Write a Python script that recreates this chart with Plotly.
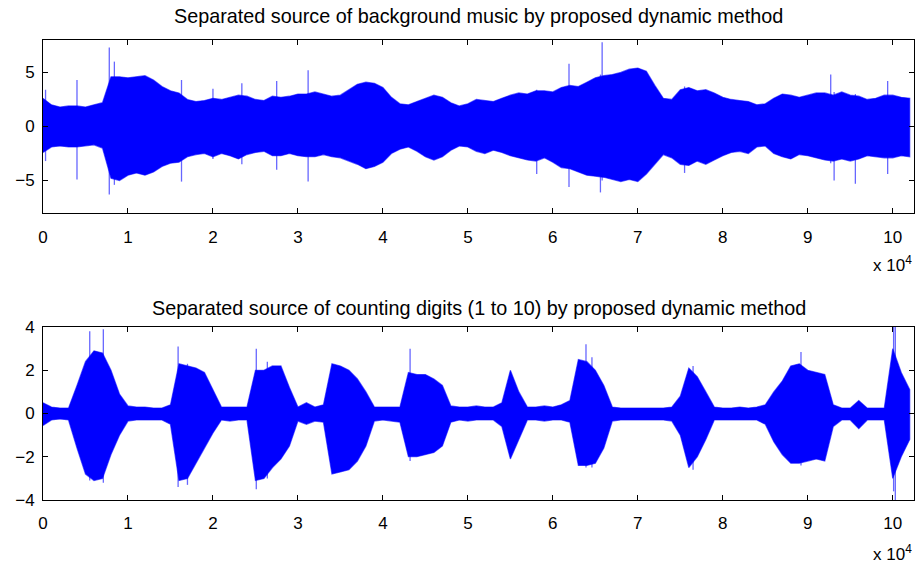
import plotly.graph_objects as go

# Dense-body envelope of each waveform, read every 1000 samples (k = 0..102)
sample_step = 1000

music_upper = [2.6, 2.0, 1.8, 1.9, 1.9, 1.8, 2.0, 2.2, 4.6, 4.6,
               4.5, 4.6, 4.7, 4.3, 3.7, 3.3, 3.1, 2.5, 2.3, 2.4,
               2.6, 2.5, 2.7, 2.9, 2.8, 2.5, 2.4, 2.8, 2.7, 2.8,
               3.0, 3.0, 3.2, 3.0, 2.8, 2.9, 3.4, 3.9, 4.1, 4.0,
               3.6, 2.7, 2.1, 2.0, 2.3, 2.6, 2.9, 2.7, 2.2, 1.9,
               2.1, 2.5, 2.4, 2.3, 2.6, 2.9, 3.1, 3.0, 3.3, 3.3,
               3.2, 3.6, 3.8, 3.7, 4.1, 4.5, 4.7, 4.8, 5.0, 5.3,
               5.4, 5.1, 3.8, 2.6, 2.5, 3.4, 3.6, 3.3, 3.4, 3.1,
               2.7, 2.5, 2.4, 2.3, 2.0, 2.1, 2.6, 3.0, 2.9, 2.7,
               2.9, 3.1, 3.1, 2.9, 3.2, 2.9, 2.8, 2.5, 2.6, 2.9,
               2.9, 2.7, 2.6]
music_lower = [-2.4, -1.9, -1.8, -1.9, -1.9, -1.8, -1.7, -2.0, -4.8, -5.0,
               -4.5, -4.3, -4.5, -4.2, -3.7, -3.4, -3.3, -2.8, -2.6, -2.5,
               -2.8, -2.5, -2.7, -3.0, -2.6, -2.4, -2.3, -2.7, -2.7, -2.5,
               -2.7, -2.8, -2.8, -2.6, -2.8, -2.9, -3.2, -3.5, -3.9, -3.7,
               -3.3, -2.5, -2.1, -1.9, -2.3, -2.8, -3.1, -2.8, -2.2, -1.8,
               -1.9, -2.3, -2.5, -2.2, -2.4, -2.7, -2.9, -3.1, -3.2, -2.9,
               -3.3, -3.8, -3.9, -4.2, -4.5, -4.6, -4.7, -4.9, -5.1, -4.9,
               -5.1, -4.4, -3.5, -2.6, -2.9, -3.5, -3.6, -3.2, -3.5, -3.1,
               -2.7, -2.4, -2.3, -2.5, -1.9, -1.8, -2.5, -2.8, -3.0, -2.6,
               -2.7, -2.9, -3.1, -3.2, -3.0, -3.2, -3.0, -2.7, -2.8, -2.9,
               -2.9, -2.7, -2.8]

# Isolated thin spikes of the music source: sample position, top, bottom
music_spike_x = [300, 4000, 7800, 8400, 16300, 20000, 23400, 27500, 31200,
                 58100, 61900, 65600, 65800, 75500, 92700, 93100, 95600, 99400]
music_spike_top = [3.4, 4.3, 7.3, 6.0, 4.3, 3.5, 4.0, 4.2, 5.2,
                   3.4, 5.8, 4.8, 7.8, 3.7, 4.8, 3.2, 3.0, 4.2]
music_spike_bottom = [-3.2, -4.9, -6.3, -5.4, -5.1, -3.0, -3.5, -4.0, -5.1,
                      -4.4, -5.6, -6.1, -5.0, -4.3, -3.4, -5.0, -5.3, -4.4]

digits_upper = [0.5, 0.3, 0.25, 0.25, 1.3, 2.4, 2.9, 2.8, 2.0, 0.9,
                0.35, 0.3, 0.3, 0.25, 0.25, 0.4, 2.3, 2.2, 2.1, 1.9,
                1.1, 0.3, 0.3, 0.3, 0.3, 2.0, 2.0, 2.2, 2.2, 1.2,
                0.3, 0.5, 0.3, 0.4, 2.3, 2.2, 2.0, 1.6, 1.0, 0.3,
                0.3, 0.3, 0.3, 1.9, 1.8, 1.8, 1.6, 1.3, 0.35, 0.3,
                0.3, 0.35, 0.3, 0.3, 0.5, 2.0, 1.0, 0.3, 0.3, 0.35,
                0.3, 0.4, 0.6, 2.5, 2.4, 2.0, 1.3, 0.3, 0.25, 0.25,
                0.25, 0.25, 0.25, 0.25, 0.3, 0.8, 2.1, 1.7, 1.0, 0.3,
                0.25, 0.25, 0.3, 0.25, 0.3, 0.4, 1.0, 1.5, 2.2, 2.3,
                2.0, 1.9, 1.8, 0.4, 0.25, 0.25, 0.6, 0.25, 0.25, 0.25,
                3.0, 1.9, 1.1]
digits_lower = [-0.55, -0.3, -0.25, -0.3, -1.6, -2.8, -3.1, -3.0, -1.9, -1.0,
                -0.35, -0.3, -0.3, -0.3, -0.3, -0.5, -3.1, -3.0, -2.3, -1.6,
                -0.9, -0.3, -0.35, -0.3, -0.3, -3.1, -3.0, -2.5, -2.1, -1.5,
                -0.35, -0.5, -0.35, -0.4, -2.8, -2.7, -2.6, -2.2, -1.5, -0.35,
                -0.3, -0.35, -0.4, -2.0, -2.0, -1.9, -1.8, -1.5, -0.4, -0.3,
                -0.35, -0.3, -0.3, -0.3, -0.6, -2.1, -1.2, -0.3, -0.3, -0.35,
                -0.3, -0.3, -0.4, -2.4, -2.4, -2.3, -1.6, -0.35, -0.3, -0.3,
                -0.3, -0.3, -0.3, -0.3, -0.35, -1.0, -2.5, -2.0, -1.2, -0.3,
                -0.3, -0.3, -0.3, -0.3, -0.3, -0.5, -1.3, -1.9, -2.3, -2.3,
                -2.2, -2.1, -2.2, -0.6, -0.3, -0.3, -0.7, -0.3, -0.3, -0.3,
                -3.0, -2.0, -1.2]

# Isolated thin spikes of the digits source: sample position, top, bottom
digits_spike_x = [5500, 7100, 15900, 17000, 25100, 26400, 43200, 63900, 64600,
                  76500, 89200, 100100, 100300]
digits_spike_top = [3.8, 3.9, 3.1, 2.3, 3.0, 2.4, 3.0, 3.2, 2.6,
                    2.2, 2.85, 4.2, 4.2]
digits_spike_bottom = [-3.1, -3.2, -3.4, -3.3, -3.5, -3.0, -2.2, -2.5, -2.5,
                       -2.6, -2.4, -3.6, -4.2]

x_tick_vals = [0, 10000, 20000, 30000, 40000, 50000, 60000, 70000, 80000, 90000, 100000]
x_tick_text = ["0", "1", "2", "3", "4", "5", "6", "7", "8", "9", "10"]
x_max = 102500

titles = ["Separated source of background music by proposed dynamic method",
          "Separated source of counting digits (1 to 10) by proposed dynamic method"]

FONT = "Liberation Sans, Arial, Helvetica, sans-serif"
BLUE = "#0000ff"
TICK_SIZE = 17
TITLE_SIZE = 19.8


def band(upper, lower):
    xs = [i * sample_step for i in range(len(upper))]
    return xs + xs[::-1], list(upper) + list(lower)[::-1]


def spikes(xs, tops, bottoms):
    sx, sy = [], []
    for x, t, b in zip(xs, tops, bottoms):
        sx += [x, x, None]
        sy += [b, t, None]
    return sx, sy


fig = go.Figure()
panels = [(music_upper, music_lower, music_spike_x, music_spike_top, music_spike_bottom),
          (digits_upper, digits_lower, digits_spike_x, digits_spike_top, digits_spike_bottom)]
for idx, (up, lo, spx, spt, spb) in enumerate(panels):
    ax = "" if idx == 0 else "2"
    bx, by = band(up, lo)
    fig.add_trace(go.Scatter(x=bx, y=by, mode="lines", fill="toself",
                             fillcolor=BLUE, line=dict(color="rgba(0,0,255,0.6)", width=1.2),
                             xaxis="x" + ax, yaxis="y" + ax, showlegend=False,
                             hoverinfo="skip"))
    sx, sy = spikes(spx, spt, spb)
    fig.add_trace(go.Scatter(x=sx, y=sy, mode="lines",
                             line=dict(color="rgba(0,0,255,0.6)", width=1.3),
                             xaxis="x" + ax, yaxis="y" + ax, showlegend=False,
                             hoverinfo="skip", cliponaxis=True))

axis_common = dict(showline=True, linecolor="black", linewidth=1, mirror="ticks",
                   ticks="inside", ticklen=5, tickcolor="black", showgrid=False,
                   zeroline=False, tickfont=dict(family=FONT, size=TICK_SIZE, color="black"))

fig.update_layout(
    width=915, height=563,
    margin=dict(l=43, r=1, t=40, b=63),
    paper_bgcolor="white", plot_bgcolor="white",
    font=dict(family=FONT, size=TICK_SIZE, color="black"),
    xaxis=dict(domain=[0, 1], range=[0, x_max], tickvals=x_tick_vals,
               ticktext=x_tick_text, anchor="y", ticklabelstandoff=9, **axis_common),
    yaxis=dict(domain=[0.624, 1], range=[-8, 8], tickvals=[-5, 0, 5],
               anchor="x", ticklabelstandoff=4, **axis_common),
    xaxis2=dict(domain=[0, 1], range=[0, x_max], tickvals=x_tick_vals,
                ticktext=x_tick_text, anchor="y2", ticklabelstandoff=8, **axis_common),
    yaxis2=dict(domain=[0, 0.376], range=[-4, 4], tickvals=[-4, -2, 0, 2, 4],
                anchor="x2", ticklabelstandoff=4, **axis_common),
    annotations=[
        dict(text=titles[0], xref="paper", yref="paper", x=0.5, y=1.0,
             yshift=11, xanchor="center", yanchor="bottom", showarrow=False,
             font=dict(family=FONT, size=TITLE_SIZE)),
        dict(text=titles[1], xref="paper", yref="paper", x=0.5, y=0.376,
             yshift=6, xanchor="center", yanchor="bottom", showarrow=False,
             font=dict(family=FONT, size=TITLE_SIZE)),
        dict(text="x 10<sup>4</sup>", xref="paper", yref="paper", x=1.0, y=0.624,
             yshift=-38, xanchor="right", yanchor="top", showarrow=False,
             font=dict(family=FONT, size=TICK_SIZE)),
        dict(text="x 10<sup>4</sup>", xref="paper", yref="paper", x=1.0, y=0.0,
             yshift=-40, xanchor="right", yanchor="top", showarrow=False,
             font=dict(family=FONT, size=TICK_SIZE)),
    ],
)

fig.write_html("out.html", config={"displayModeBar": False},
               post_script="document.body.style.margin='0';document.body.style.overflow='hidden';")
